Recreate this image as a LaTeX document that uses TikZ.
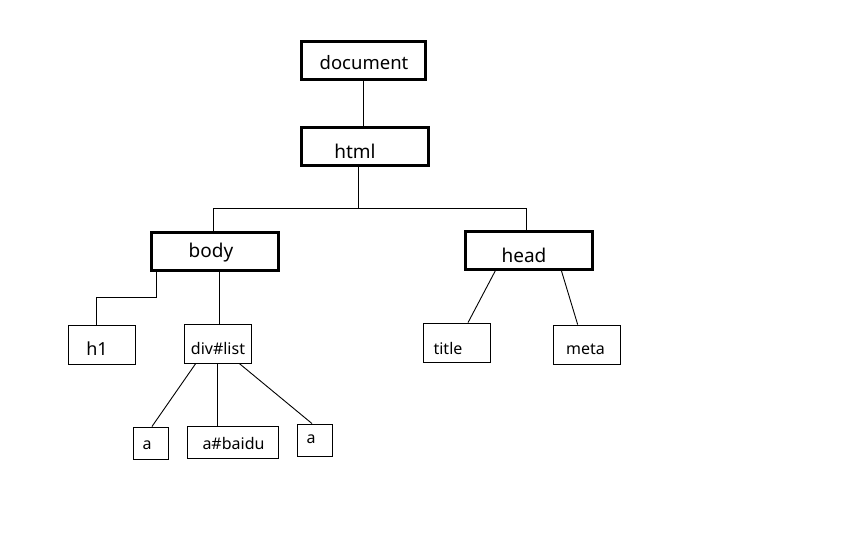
\documentclass[tikz,border=0pt]{standalone}
\usepackage{fontspec}
\setmainfont{Noto Sans}
\usetikzlibrary{calc}
\tikzset{
  bbox/.style={draw=black, line width=3pt, fill=white, minimum width=127pt, minimum height=38pt, inner sep=0pt},
  sbox/.style={draw=black, line width=0.9pt, fill=white, inner sep=0pt},
  conn/.style={draw=black, line width=0.9pt},
  bigt/.style={font=\fontsize{19}{22}\selectfont, inner sep=0pt},
  smallt/.style={font=\fontsize{16}{19}\selectfont, inner sep=0pt}
}
\begin{document}
\begin{tikzpicture}[x=1pt,y=-1pt]
\useasboundingbox[fill=white] (0,0) rectangle (864,540);
% big boxes
\node[bbox, minimum width=124pt] (doc) at (363.5,60.5) {};
\node[bbox] (html) at (365,146.5) {};
\node[bbox] (body) at (215,251.5) {};
\node[bbox] (head) at (529,250.5) {};
% small boxes
\node[sbox, minimum width=67pt, minimum height=39pt] (h1) at (101.5,344.5) {};
\node[sbox, minimum width=67pt, minimum height=39pt] (div) at (217.5,343.5) {};
\node[sbox, minimum width=35pt, minimum height=32pt] (a1) at (150.5,443) {};
\node[sbox, minimum width=91pt, minimum height=32pt] (baidu) at (232.5,442) {};
\node[sbox, minimum width=35pt, minimum height=32pt] (a2) at (314.5,440) {};
\node[sbox, minimum width=67pt, minimum height=39pt] (title) at (456.5,342.5) {};
\node[sbox, minimum width=67pt, minimum height=39pt] (meta) at (586.5,344.5) {};
% texts
\node[bigt, font=\fontsize{18.5}{22}\selectfont] (tdoc) at (364,62.5) {document};
\node[bigt] (thtml) at (355,151) {html};
\node[bigt] (tbody) at (211,253) {body};
\node[bigt] (thead) at (524,255) {head};
\node[bigt, font=\fontsize{18}{22}\selectfont] (th1) at (97,349) {h1};
\node[smallt] (tdiv) at (218,348) {div\#list};
\node[smallt] (ta1) at (147,445) {a};
\node[smallt] (tbaidu) at (233.5,443) {a\#baidu};
\node[smallt] (ta2) at (311,439) {a};
\node[smallt] (ttitle) at (448,348) {title};
\node[smallt] (tmeta) at (585.5,349) {meta};
% connectors
\draw[conn] (doc.south) -- (html.north -| doc.south);
\coordinate (jm) at (358,208);
\coordinate (jl) at (213,208);
\coordinate (jr) at (526,208);
\draw[conn] (html.south -| jm) -- (jm);
\draw[conn] (jl) -- (jr);
\draw[conn] (jl) -- (body.north -| jl);
\draw[conn] (jr) -- (head.north -| jr);
\coordinate (bh) at (156,297);
\coordinate (hh) at (96,297);
\draw[conn] (body.south -| bh) -- (bh) -- (hh) -- (h1.north -| hh);
\coordinate (bd) at (219,300);
\draw[conn] (body.south -| bd) -- (div.north -| bd);
\draw[conn] ($(div.south west)!0.18!(div.south east)$) -- ($(a1.north west)!0.54!(a1.north east)$);
\draw[conn] (div.south) -- (baidu.north -| div.south);
\draw[conn] ($(div.south west)!0.82!(div.south east)$) -- ($(a2.north west)!0.43!(a2.north east)$);
\draw[conn] ($(head.south west)!0.24!(head.south east)$) -- ($(title.north west)!0.67!(title.north east)$);
\draw[conn] ($(head.south west)!0.75!(head.south east)$) -- ($(meta.north west)!0.37!(meta.north east)$);
\end{tikzpicture}
\end{document}
